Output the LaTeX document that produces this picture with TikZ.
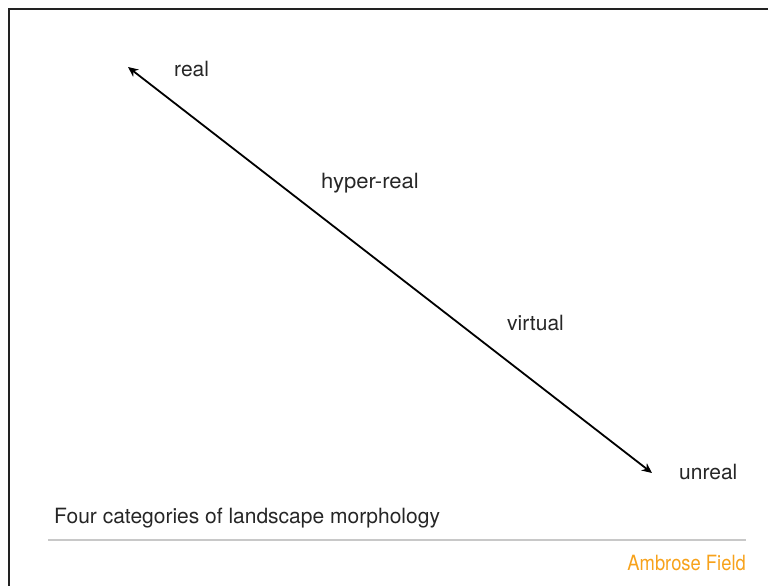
\documentclass[tikz,border=0pt]{standalone}
\usepackage{fontspec}
\setmainfont{TeX Gyre Heros}
\usetikzlibrary{arrows.meta}
\definecolor{framegray}{HTML}{222222}
\definecolor{rulegray}{HTML}{C8C8C8}
\definecolor{authororange}{HTML}{F7A21B}
\tikzset{
  label text/.style={anchor=base west, inner sep=0pt, font=\fontsize{21}{25}\selectfont, text=black!85},
  axis arrow/.style={line width=1.8pt, {Stealth[length=10pt,width=9pt,inset=3pt]}-{Stealth[length=10pt,width=9pt,inset=3pt]}},
}
\begin{document}
\begin{tikzpicture}[x=1pt,y=-1pt]
  \useasboundingbox (0,0) rectangle (768,586);
  % page frame, open at right and bottom
  \draw[framegray, line width=1.5pt] (9,590) -- (9,9) -- (772,9);
  % scale from real to unreal
  \coordinate (realend) at (128,67);
  \coordinate (unrealend) at (652,473);
  \draw[axis arrow] (realend) -- (unrealend);
  \node[label text] (real) at (174,77) {real};
  \node[label text] (hyper) at (321,188) {\scalebox{1.05}[1]{hyper-real}};
  \node[label text] (virtual) at (507,330) {virtual};
  \node[label text] (unreal) at (679,479) {unreal};
  \node[label text] (caption) at (54,523) {Four categories of landscape morphology};
  % footer
  \coordinate (ruleL) at (48,540);
  \coordinate (ruleR) at (746,540);
  \draw[rulegray, line width=2pt] (ruleL) -- (ruleR);
  \node[label text, anchor=base east, text=authororange] (author) at (746,570)
    {\scalebox{0.875}[1]{Ambrose Field}};
\end{tikzpicture}
\end{document}
